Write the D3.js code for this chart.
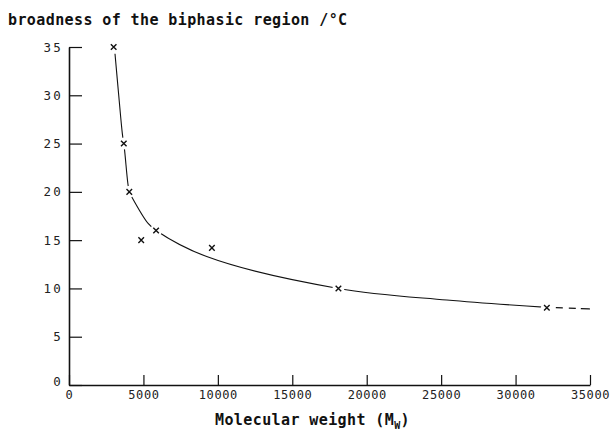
<!DOCTYPE html>
<html>
<head>
<meta charset="utf-8">
<script src="https://cdn.jsdelivr.net/npm/d3@7"></script>
<style>
  html, body { margin: 0; padding: 0; background: #fff; }
  svg { display: block; }
</style>
</head>
<body>
<svg id="chart" width="610" height="431"></svg>
<script>
// ---- data ----
const molWeight = [3000, 3680, 4050, 4850, 5850, 9600, 18100, 32100];
const broadness = [35, 25, 20, 15, 16, 14.2, 10, 8];

const curveMw  = [3090, 3340, 3585, 3720, 3945, 4050, 4210, 5330, 5850, 9250, 18100, 25380, 32100];
const curveVal = [34.3, 30.0, 26.0, 24.5, 21.0, 20.0, 19.5, 16.7, 16.0, 13.3, 10.0, 8.8, 8.04];

const extMw  = [32100, 35000];
const extVal = [8.04, 7.87];

const xTicks = [0, 5000, 10000, 15000, 20000, 25000, 30000, 35000];
const yTicks = [0, 5, 10, 15, 20, 25, 30, 35];

const titleText = "broadness of the biphasic region /°C";
const xLabelMain = "Molecular weight (M";
const xLabelSub = "W";
const xLabelEnd = ")";

// ---- drawing ----
const svg = d3.select("#chart");
const x = d3.scaleLinear().domain([0, 35000]).range([69, 590]);
const y = d3.scaleLinear().domain([0, 35]).range([385, 47]);

const ink = "#111";
const tickFont = "'DejaVu Sans Mono', monospace";

// x axis
const gx = svg.append("g").attr("transform", `translate(0,${y(0)})`)
  .call(d3.axisBottom(x).tickValues(xTicks).tickFormat(d3.format("d"))
        .tickSizeInner(-10).tickSizeOuter(0).tickPadding(5));
gx.select(".domain").attr("stroke", ink).attr("stroke-width", 1.6);
gx.selectAll(".tick line").attr("stroke", ink).attr("stroke-width", 1.2);
gx.selectAll(".tick text").attr("font-family", tickFont).attr("font-size", 12)
  .attr("fill", "#222").attr("letter-spacing", 0.6);

// y axis
const gy = svg.append("g").attr("transform", `translate(${x(0)},0)`)
  .call(d3.axisLeft(y).tickValues(yTicks).tickFormat(d3.format("d"))
        .tickSizeInner(-13).tickSizeOuter(0).tickPadding(6));
gy.select(".domain").attr("stroke", ink).attr("stroke-width", 1.6);
gy.selectAll(".tick line").attr("stroke", ink).attr("stroke-width", 1.2);
gy.selectAll(".tick text").attr("font-family", tickFont).attr("font-size", 12.5)
  .attr("fill", "#222").attr("letter-spacing", 2.2);
gy.selectAll(".tick").filter(d => d === 0).select("text").attr("dy", "0.05em");

// fitted curve
const line = d3.line().x(d => x(d[0])).y(d => y(d[1])).curve(d3.curveCatmullRom.alpha(0.5));
svg.append("path")
  .datum(d3.zip(curveMw, curveVal))
  .attr("d", line)
  .attr("fill", "none").attr("stroke", ink).attr("stroke-width", 1.1);

// dashed extrapolation
svg.append("path")
  .datum(d3.zip(extMw, extVal))
  .attr("d", d3.line().x(d => x(d[0])).y(d => y(d[1])))
  .attr("fill", "none").attr("stroke", ink).attr("stroke-width", 1.2)
  .attr("stroke-dasharray", "0,9,7,6,7,5,8");

// markers with white halo (line is broken around each marker)
const pts = d3.zip(molWeight, broadness);
svg.append("g").selectAll("circle").data(pts).join("circle")
  .attr("cx", d => x(d[0])).attr("cy", d => y(d[1])).attr("r", 6).attr("fill", "#fff");
const sym = d3.symbol().type(d3.symbolX).size(22);
svg.append("g").selectAll("path").data(pts).join("path")
  .attr("transform", d => `translate(${x(d[0])},${y(d[1])})`)
  .attr("d", sym).attr("fill", "none").attr("stroke", ink).attr("stroke-width", 1.4);

// title
svg.append("text").attr("x", 8).attr("y", 24.5)
  .attr("font-family", tickFont).attr("font-weight", "bold").attr("font-size", 15)
  .attr("letter-spacing", 0.4).attr("fill", ink).text(titleText);

// x label with subscript
const xl = svg.append("text").attr("x", 215).attr("y", 424.5)
  .attr("font-family", tickFont).attr("font-weight", "bold").attr("font-size", 15)
  .attr("letter-spacing", 0.4).attr("fill", ink);
xl.append("tspan").text(xLabelMain);
xl.append("tspan").attr("font-size", 10).attr("dy", 4).text(xLabelSub);
xl.append("tspan").attr("dy", -4).text(xLabelEnd);
</script>
</body>
</html>
